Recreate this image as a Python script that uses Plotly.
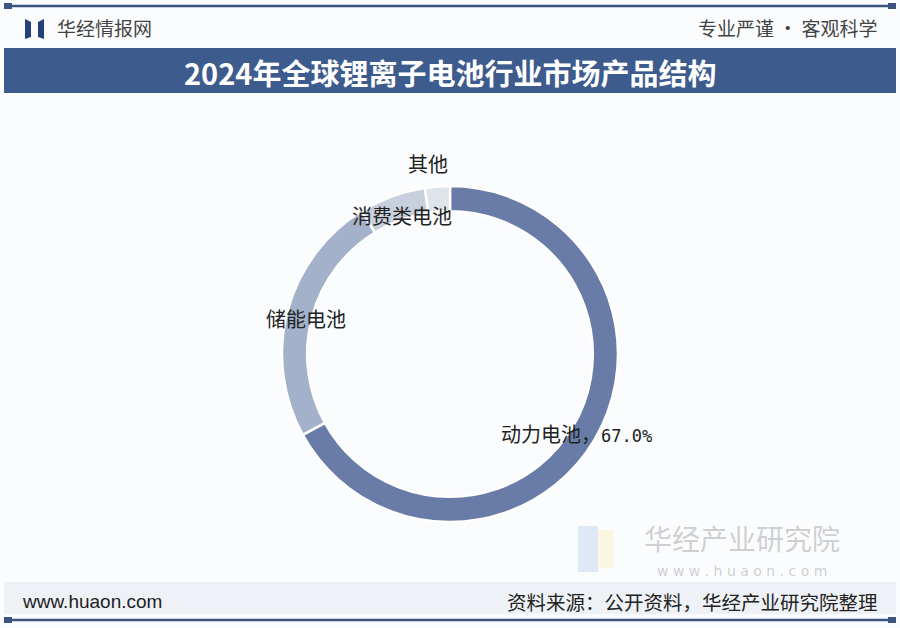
import plotly.graph_objects as go

# 产品结构（%）
categories = ["动力电池", "储能电池", "消费类电池", "其他"]
shares = [67.0, 24.2, 6.4, 2.4]
slice_colors = ["#687ca7", "#a3b1cb", "#c9d0dd", "#dfe3ea"]

title = "2024年全球锂离子电池行业市场产品结构"
W, H = 900, 628


def px(x):
    return x / W


def py(y):
    return 1 - y / H


fig = go.Figure()

cx, cy, r = 450, 354, 168
fig.add_trace(go.Pie(
    labels=categories,
    values=shares,
    hole=0.85,
    sort=False,
    direction="clockwise",
    rotation=0,
    textinfo="none",
    hoverinfo="label+percent",
    marker=dict(colors=slice_colors, line=dict(color="white", width=2.5)),
    domain=dict(x=[px(cx - r), px(cx + r)], y=[py(cy + r), py(cy - r)]),
    showlegend=False,
))

shapes = []
# 顶部、底部细线
for yy in (6, 620):
    shapes.append(dict(type="line", xref="paper", yref="paper",
                       x0=px(8), x1=px(892), y0=py(yy), y1=py(yy),
                       line=dict(color="#3b5480", width=2.5)))
    for xx in (8, 892):
        shapes.append(dict(type="rect", xref="paper", yref="paper",
                           x0=px(xx - 4), x1=px(xx + 4), y0=py(yy - 3), y1=py(yy + 3),
                           fillcolor="#3b5480", line=dict(width=0)))
# 标题栏
shapes.append(dict(type="rect", xref="paper", yref="paper",
                   x0=px(4), x1=px(896), y0=py(93), y1=py(48),
                   fillcolor="#3e5b8e", line=dict(width=0), layer="below"))
# 页脚底色
shapes.append(dict(type="rect", xref="paper", yref="paper",
                   x0=px(4), x1=px(896), y0=py(614), y1=py(582),
                   fillcolor="#eef1f6", line=dict(width=0), layer="below"))
# 左上角标志
shapes.append(dict(type="path", xref="paper", yref="paper",
                   path="M %f %f L %f %f L %f %f L %f %f Z" % (
                       px(25), py(19), px(31), py(22), px(31), py(37), px(25), py(39)),
                   fillcolor="#24427a", line=dict(width=0)))
shapes.append(dict(type="path", xref="paper", yref="paper",
                   path="M %f %f L %f %f L %f %f L %f %f Z" % (
                       px(44), py(19), px(38), py(22), px(38), py(37), px(44), py(39)),
                   fillcolor="#24427a", line=dict(width=0)))
# 右下水印标志
shapes.append(dict(type="rect", xref="paper", yref="paper",
                   x0=px(578), x1=px(598), y0=py(572), y1=py(526),
                   fillcolor="rgba(170,195,235,0.35)", line=dict(width=0), layer="below"))
shapes.append(dict(type="rect", xref="paper", yref="paper",
                   x0=px(598), x1=px(613), y0=py(568), y1=py(530),
                   fillcolor="rgba(250,235,170,0.35)", line=dict(width=0), layer="below"))

cjk = "Noto Sans CJK SC"
mono = "DejaVu Sans Mono"
lab_font = dict(family=cjk, size=20, color="#222222")
annotations = [
    dict(text="华经情报网", x=px(55), y=py(28), xanchor="left", yanchor="middle",
         font=dict(family=cjk, size=19, color="#444444")),
    dict(text="专业严谨 • 客观科学", x=px(880), y=py(28), xanchor="right", yanchor="middle",
         font=dict(family=cjk, size=19, color="#444444")),
    dict(text="<b>" + title + "</b>", x=px(450), y=py(72), xanchor="center", yanchor="middle",
         font=dict(family=cjk, size=29, color="white")),
    # 扇区标签
    dict(text=categories[0] + "，<span style=\"font-family:'%s';font-size:17px\">%.1f%%</span>"
         % (mono, shares[0]),
         x=px(499), y=py(433), xanchor="left", yanchor="middle", font=lab_font),
    dict(text=categories[1], x=px(306), y=py(318), xanchor="center", yanchor="middle",
         font=lab_font),
    dict(text=categories[2], x=px(402), y=py(216), xanchor="center", yanchor="middle",
         font=lab_font),
    dict(text=categories[3], x=px(428), y=py(164), xanchor="center", yanchor="middle",
         font=lab_font),
    # 水印
    dict(text="华经产业研究院", x=px(742), y=py(538), xanchor="center", yanchor="middle",
         font=dict(family=cjk, size=28, color="rgba(150,150,150,0.45)")),
    dict(text="w w w . h u a o n . c o m", x=px(742), y=py(571), xanchor="center", yanchor="middle",
         font=dict(family="DejaVu Sans", size=14, color="rgba(150,150,150,0.45)")),
    # 页脚
    dict(text="www.huaon.com", x=px(20), y=py(601), xanchor="left", yanchor="middle",
         font=dict(family="Liberation Sans", size=19, color="#222222")),
    dict(text="资料来源：公开资料，华经产业研究院整理", x=px(880), y=py(601),
         xanchor="right", yanchor="middle",
         font=dict(family=cjk, size=19.5, color="#222222")),
]
for a in annotations:
    a.update(xref="paper", yref="paper", showarrow=False)

fig.update_layout(
    width=W, height=H,
    margin=dict(l=0, r=0, t=0, b=0),
    paper_bgcolor="#fbfcfe",
    plot_bgcolor="#fbfcfe",
    shapes=shapes,
    annotations=annotations,
)

fig.write_html("out.html", config={"displayModeBar": False},
               post_script="document.body.style.margin='0px';document.body.style.overflow='hidden';")
